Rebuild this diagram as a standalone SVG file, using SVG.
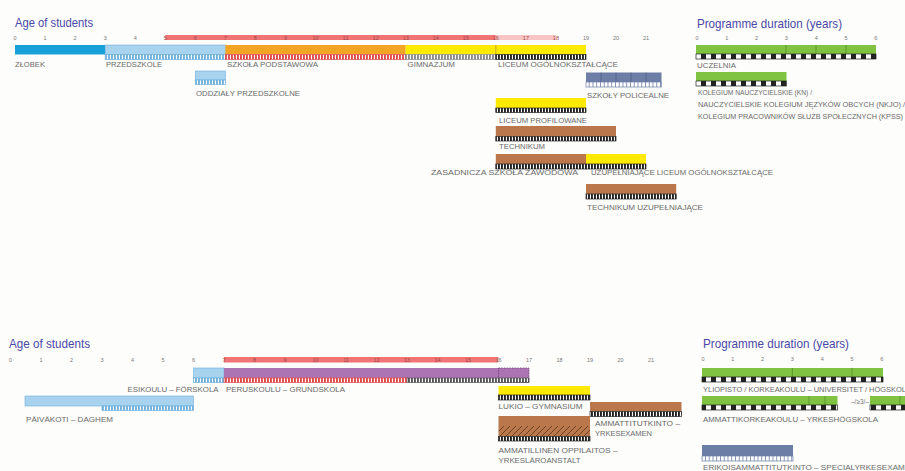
<svg xmlns="http://www.w3.org/2000/svg" width="905" height="471" viewBox="0 0 905 471">
<style>
text{font-family:"Liberation Sans","DejaVu Sans",sans-serif}
.ttl{font-size:13px;fill:#4a48a8}
.ax{font-size:5.5px;fill:#777;text-anchor:middle}
.axr{font-size:5.5px;fill:#a04848;text-anchor:middle}
.lbl{font-size:7px;fill:#6a6a6a}
.lb{fill:#a8d3ef;stroke:#6fb0dc;stroke-width:0.6}
.blue{fill:#17a1d8}
.org{fill:#f4a526}
.yel{fill:#ffea00}
.brn{fill:#b9774b}
.slt{fill:#6c7ea6}
.grn{fill:#80c241}
.pur{fill:#ad74b3}
.s-lb{fill:url(#pLb);stroke:#6fb0dc;stroke-width:0.7}
.s-red{fill:url(#pRed);stroke:#e04a4a;stroke-width:0.7}
.s-gry{fill:url(#pGry);stroke:#8a8a8a;stroke-width:0.7}
.s-dgy{fill:url(#pDgy);stroke:#555;stroke-width:0.7}
.s-blk{fill:url(#pBlk);stroke:#222;stroke-width:0.7}
.s-slt{fill:url(#pSlt);stroke:#6c7ea6;stroke-width:0.7}
.s-chk{fill:url(#pChk);stroke:#222;stroke-width:0.7}
.div{stroke-width:0.7}
</style>
<defs>
<pattern id="pLb" patternUnits="userSpaceOnUse" width="3" height="10"><rect width="3" height="10" fill="#fff"/><rect width="1.9" height="10" fill="#6fb0dc"/></pattern>
<pattern id="pRed" patternUnits="userSpaceOnUse" width="3" height="10"><rect width="3" height="10" fill="#fff"/><rect width="1.9" height="10" fill="#e04a4a"/></pattern>
<pattern id="pGry" patternUnits="userSpaceOnUse" width="3" height="10"><rect width="3" height="10" fill="#fff"/><rect width="1.9" height="10" fill="#8a8a8a"/></pattern>
<pattern id="pDgy" patternUnits="userSpaceOnUse" width="3" height="10"><rect width="3" height="10" fill="#fff"/><rect width="1.9" height="10" fill="#555"/></pattern>
<pattern id="pBlk" patternUnits="userSpaceOnUse" width="3" height="10"><rect width="3" height="10" fill="#fff"/><rect width="1.9" height="10" fill="#222"/></pattern>
<pattern id="pSlt" patternUnits="userSpaceOnUse" width="3.75" height="10"><rect width="3.75" height="10" fill="#fff"/><rect width="0.8" height="10" fill="#6c7ea6"/></pattern>
<pattern id="pChk" patternUnits="userSpaceOnUse" width="10" height="10" x="1"><rect width="10" height="10" fill="#fff"/><rect width="5" height="10" fill="#222"/></pattern>
<pattern id="pHat" patternUnits="userSpaceOnUse" width="6" height="6"><rect width="6" height="6" fill="#b9774b"/><path d="M-1,7 L7,-1 M-1,1 L1,-1 M5,7 L7,5" stroke="#6e4326" stroke-width="1"/></pattern>
</defs>
<rect width="905" height="471" fill="#fdfdfb"/>

<!-- ===== TOP SECTION ===== -->
<g id="top-axis">
<text class="ttl" x="15" y="27" textLength="78" lengthAdjust="spacingAndGlyphs">Age of students</text>
<rect x="165.3" y="35" width="330.5" height="5" fill="#f07474"/>
<rect x="495.8" y="35" width="60.1" height="5" fill="#f8c4c4"/>
<text class="ax" x="15" y="39.5">0</text><text class="ax" x="45" y="39.5">1</text><text class="ax" x="75.1" y="39.5">2</text><text class="ax" x="105.2" y="39.5">3</text><text class="ax" x="135.2" y="39.5">4</text>
<text class="axr" x="165.3" y="39.5">5</text><text class="axr" x="195.3" y="39.5">6</text><text class="axr" x="225.4" y="39.5">7</text><text class="axr" x="255.4" y="39.5">8</text><text class="axr" x="285.5" y="39.5">9</text><text class="axr" x="315.5" y="39.5">10</text><text class="axr" x="345.6" y="39.5">11</text><text class="axr" x="375.6" y="39.5">12</text><text class="axr" x="405.7" y="39.5">13</text><text class="axr" x="435.7" y="39.5">14</text><text class="axr" x="465.8" y="39.5">15</text><text class="axr" x="495.8" y="39.5">16</text><text class="axr" x="525.9" y="39.5">17</text><text class="axr" x="555.9" y="39.5">18</text>
<text class="ax" x="586" y="39.5">19</text><text class="ax" x="616" y="39.5">20</text><text class="ax" x="646" y="39.5">21</text>
</g>

<g id="zlobek">
<rect class="blue" x="15" y="45" width="90.2" height="9.5"/>
<text class="lbl" x="15" y="67" textLength="30" lengthAdjust="spacingAndGlyphs">ZŁOBEK</text>
</g>
<g id="przedszkole">
<rect class="lb" x="105.2" y="45" width="120.2" height="9.5"/>
<rect class="s-lb" x="105.2" y="54.5" width="120.2" height="5"/>
<text class="lbl" x="106" y="67" textLength="56" lengthAdjust="spacingAndGlyphs">PRZEDSZKOLE</text>
</g>
<g id="szkola-podstawowa">
<rect class="org" x="225.4" y="45" width="180.3" height="9.5"/>
<rect class="s-red" x="225.4" y="54.5" width="180.3" height="5"/>
<text class="lbl" x="227" y="67" textLength="91" lengthAdjust="spacingAndGlyphs">SZKOŁA PODSTAWOWA</text>
</g>
<g id="gimnazjum">
<rect class="yel" x="405.7" y="45" width="90.1" height="9.5"/>
<rect class="s-gry" x="405.7" y="54.5" width="90.1" height="5"/>
<text class="lbl" x="407.5" y="67" textLength="47.5" lengthAdjust="spacingAndGlyphs">GIMNAZJUM</text>
</g>
<g id="liceum-ogolnoksztalcace">
<rect class="yel" x="495.8" y="45" width="90.2" height="9.5"/>
<line x1="495.8" y1="45" x2="495.8" y2="54.5" stroke="#a09020" class="div"/>
<rect class="s-blk" x="495.8" y="54.5" width="90.2" height="5"/>
<text class="lbl" x="498" y="67" textLength="120" lengthAdjust="spacingAndGlyphs">LICEUM OGÓLNOKSZTAŁCĄCE</text>
</g>
<g id="oddzialy-przedszkolne">
<rect class="lb" x="195.3" y="71" width="30.1" height="9"/>
<rect class="s-lb" x="195.3" y="80" width="30.1" height="4.5"/>
<text class="lbl" x="196" y="96" textLength="104" lengthAdjust="spacingAndGlyphs">ODDZIAŁY PRZEDSZKOLNE</text>
</g>
<g id="szkoly-policealne">
<rect class="slt" x="586" y="72.5" width="75.5" height="9.5"/>
<path d="M601,72.5V82M616,72.5V82M631,72.5V82M646,72.5V82" stroke="#4d5d82" class="div"/>
<rect class="s-slt" x="586" y="82" width="75.5" height="5"/>
<text class="lbl" x="587" y="97.5" textLength="82" lengthAdjust="spacingAndGlyphs">SZKOŁY POLICEALNE</text>
</g>
<g id="liceum-profilowane">
<rect class="yel" x="495.8" y="98" width="90.2" height="10"/>
<rect class="s-blk" x="495.8" y="108" width="90.2" height="4.5"/>
<text class="lbl" x="499" y="122.5" textLength="88" lengthAdjust="spacingAndGlyphs">LICEUM PROFILOWANE</text>
</g>
<g id="technikum">
<rect class="brn" x="495.8" y="126" width="120.2" height="10.5"/>
<rect class="s-blk" x="495.8" y="136.5" width="120.2" height="4.5"/>
<text class="lbl" x="499" y="149" textLength="46" lengthAdjust="spacingAndGlyphs">TECHNIKUM</text>
</g>
<g id="zasadnicza-szkola-zawodowa">
<rect class="brn" x="495.8" y="154" width="90.2" height="10"/>
<rect class="s-blk" x="495.8" y="164" width="90.2" height="5"/>
<text class="lbl" x="431" y="175" textLength="147" lengthAdjust="spacingAndGlyphs">ZASADNICZA SZKOŁA ZAWODOWA</text>
</g>
<g id="uzupelniajace-liceum">
<rect class="yel" x="586" y="154" width="60" height="10"/>
<rect class="s-blk" x="586" y="164" width="60" height="5"/>
<text class="lbl" x="591" y="175" textLength="182" lengthAdjust="spacingAndGlyphs">UZUPEŁNIAJĄCE LICEUM OGÓLNOKSZTAŁCĄCE</text>
</g>
<g id="technikum-uzupelniajace">
<rect class="brn" x="586" y="184" width="90.2" height="10"/>
<rect class="s-blk" x="586" y="194" width="90.2" height="5"/>
<text class="lbl" x="587" y="209.5" textLength="116" lengthAdjust="spacingAndGlyphs">TECHNIKUM UZUPEŁNIAJĄCE</text>
</g>

<g id="top-duration-axis">
<text class="ttl" x="697" y="28" textLength="145" lengthAdjust="spacingAndGlyphs">Programme duration (years)</text>
<text class="ax" x="697" y="39.5">0</text><text class="ax" x="726.8" y="39.5">1</text><text class="ax" x="756.6" y="39.5">2</text><text class="ax" x="786.4" y="39.5">3</text><text class="ax" x="816.2" y="39.5">4</text><text class="ax" x="846" y="39.5">5</text><text class="ax" x="875.8" y="39.5">6</text>
</g>
<g id="uczelnia">
<rect class="grn" x="696" y="45" width="180" height="9"/>
<path d="M786,45V54M816,45V54M846,45V54" stroke="#4e8a24" class="div"/>
<rect class="s-chk" x="696" y="54" width="180" height="5"/>
<text class="lbl" x="697" y="67.5" textLength="39" lengthAdjust="spacingAndGlyphs">UCZELNIA</text>
</g>
<g id="kolegium">
<rect class="grn" x="696" y="72" width="90.5" height="9"/>
<rect class="s-chk" x="696" y="81" width="90.5" height="5"/>
<text class="lbl" x="698" y="94.5" textLength="114" lengthAdjust="spacingAndGlyphs">KOLEGIUM NAUCZYCIELSKIE (KN) /</text>
<text class="lbl" x="698" y="106.5" textLength="207" lengthAdjust="spacingAndGlyphs">NAUCZYCIELSKIE KOLEGIUM JĘZYKÓW OBCYCH (NKJO) /</text>
<text class="lbl" x="698" y="118.5" textLength="205" lengthAdjust="spacingAndGlyphs">KOLEGIUM PRACOWNIKÓW SŁUŻB SPOŁECZNYCH (KPSS)</text>
</g>

<!-- ===== BOTTOM SECTION ===== -->
<g id="bottom-axis">
<text class="ttl" x="9" y="348" textLength="81" lengthAdjust="spacingAndGlyphs">Age of students</text>
<rect x="224" y="357" width="274.5" height="5.5" fill="#f07474"/>
<text class="ax" x="10.5" y="361.5">0</text><text class="ax" x="41" y="361.5">1</text><text class="ax" x="71.5" y="361.5">2</text><text class="ax" x="102" y="361.5">3</text><text class="ax" x="132.5" y="361.5">4</text><text class="ax" x="163" y="361.5">5</text><text class="ax" x="193.5" y="361.5">6</text>
<text class="axr" x="224" y="361.5">7</text><text class="axr" x="254.5" y="361.5">8</text><text class="axr" x="285" y="361.5">9</text><text class="axr" x="315.5" y="361.5">10</text><text class="axr" x="346" y="361.5">11</text><text class="axr" x="376.5" y="361.5">12</text><text class="axr" x="407" y="361.5">13</text><text class="axr" x="437.5" y="361.5">14</text><text class="axr" x="468" y="361.5">15</text>
<text class="ax" x="498.5" y="361.5">16</text><text class="ax" x="529" y="361.5">17</text><text class="ax" x="559.5" y="361.5">18</text><text class="ax" x="590" y="361.5">19</text><text class="ax" x="620.5" y="361.5">20</text><text class="ax" x="651" y="361.5">21</text>
</g>
<g id="esikoulu">
<rect class="lb" x="193.5" y="368" width="30.5" height="10"/>
<rect class="s-lb" x="193.5" y="378" width="30.5" height="4.5"/>
<text class="lbl" x="218.5" y="391.5" text-anchor="end" textLength="91" lengthAdjust="spacingAndGlyphs">ESIKOULU – FÖRSKOLA</text>
</g>
<g id="peruskoulu">
<rect class="pur" x="224" y="368" width="305" height="10"/>
<rect class="s-red" x="224" y="378" width="183" height="4.5"/>
<rect class="s-dgy" x="407" y="378" width="122" height="4.5"/>
<rect x="498.5" y="368" width="30.5" height="14.5" fill="none" stroke="#5a3a5e" stroke-width="0.7" stroke-dasharray="1.5,1.2"/>
<text class="lbl" x="226" y="391.5" textLength="119" lengthAdjust="spacingAndGlyphs">PERUSKOULU – GRUNDSKOLA</text>
</g>
<g id="paivakoti">
<rect class="lb" x="25" y="396" width="168.5" height="10"/>
<rect class="s-lb" x="102" y="406" width="91.5" height="4.5"/>
<text class="lbl" x="26" y="422" textLength="87" lengthAdjust="spacingAndGlyphs">PÄIVÄKOTI – DAGHEM</text>
</g>
<g id="lukio">
<rect class="yel" x="498.5" y="386" width="91.5" height="9"/>
<rect class="s-blk" x="498.5" y="395" width="91.5" height="5"/>
<text class="lbl" x="498.5" y="409" textLength="84" lengthAdjust="spacingAndGlyphs">LUKIO – GYMNASIUM</text>
</g>
<g id="ammattitutkinto">
<rect class="brn" x="590" y="402" width="91.5" height="9.5"/>
<rect class="s-blk" x="590" y="411.5" width="91.5" height="5"/>
<text class="lbl" x="595" y="425.5" textLength="85" lengthAdjust="spacingAndGlyphs">AMMATTITUTKINTO –</text>
<text class="lbl" x="595" y="435.5" textLength="57" lengthAdjust="spacingAndGlyphs">YRKESEXAMEN</text>
</g>
<g id="ammatillinen-oppilaitos">
<rect class="brn" x="498.5" y="416" width="91.5" height="10"/>
<rect x="498.5" y="426" width="91.5" height="10.5" fill="url(#pHat)"/>
<rect class="s-blk" x="498.5" y="436.5" width="91.5" height="4.5"/>
<text class="lbl" x="498.5" y="452.5" textLength="119" lengthAdjust="spacingAndGlyphs">AMMATILLINEN OPPILAITOS –</text>
<text class="lbl" x="498.5" y="462.5" textLength="82" lengthAdjust="spacingAndGlyphs">YRKESLÄROANSTALT</text>
</g>

<g id="bottom-duration-axis">
<text class="ttl" x="703" y="348" textLength="146" lengthAdjust="spacingAndGlyphs">Programme duration (years)</text>
<text class="ax" x="703" y="360.5">0</text><text class="ax" x="732.8" y="360.5">1</text><text class="ax" x="762.6" y="360.5">2</text><text class="ax" x="792.4" y="360.5">3</text><text class="ax" x="822.2" y="360.5">4</text><text class="ax" x="852" y="360.5">5</text><text class="ax" x="881.8" y="360.5">6</text>
</g>
<g id="yliopisto">
<rect class="grn" x="702" y="368" width="181" height="9"/>
<path d="M792.4,368V377M852,368V377" stroke="#4e8a24" class="div"/>
<rect class="s-chk" x="702" y="377" width="181" height="5"/>
<text class="lbl" x="703" y="391.5" textLength="208" lengthAdjust="spacingAndGlyphs">YLIOPISTO / KORKEAKOULU – UNIVERSITET / HÖGSKOLA</text>
</g>
<g id="ammattikorkeakoulu">
<rect class="grn" x="702" y="396" width="135.5" height="9"/>
<path d="M809,396V405M825,396V405" stroke="#4e8a24" class="div"/>
<rect class="s-chk" x="702" y="405" width="135.5" height="5"/>
<text x="851" y="404" font-size="6.5" fill="#777" textLength="18" lengthAdjust="spacingAndGlyphs">–/≥3/–</text>
<rect class="grn" x="870" y="396" width="40" height="9"/>
<path d="M900,396V405" stroke="#4e8a24" class="div"/>
<rect class="s-chk" x="870" y="405" width="40" height="5"/>
<text class="lbl" x="703" y="421.5" textLength="175" lengthAdjust="spacingAndGlyphs">AMMATTIKORKEAKOULU – YRKESHÖGSKOLA</text>
</g>
<g id="erikoisammattitutkinto">
<rect class="slt" x="702" y="445" width="91" height="11"/>
<rect class="s-slt" x="702" y="456" width="91" height="5"/>
<text class="lbl" x="703" y="469.5" textLength="213" lengthAdjust="spacingAndGlyphs">ERIKOISAMMATTITUTKINTO – SPECIALYRKESEXAMEN</text>
</g>
<g id="connectors"/>
</svg>
